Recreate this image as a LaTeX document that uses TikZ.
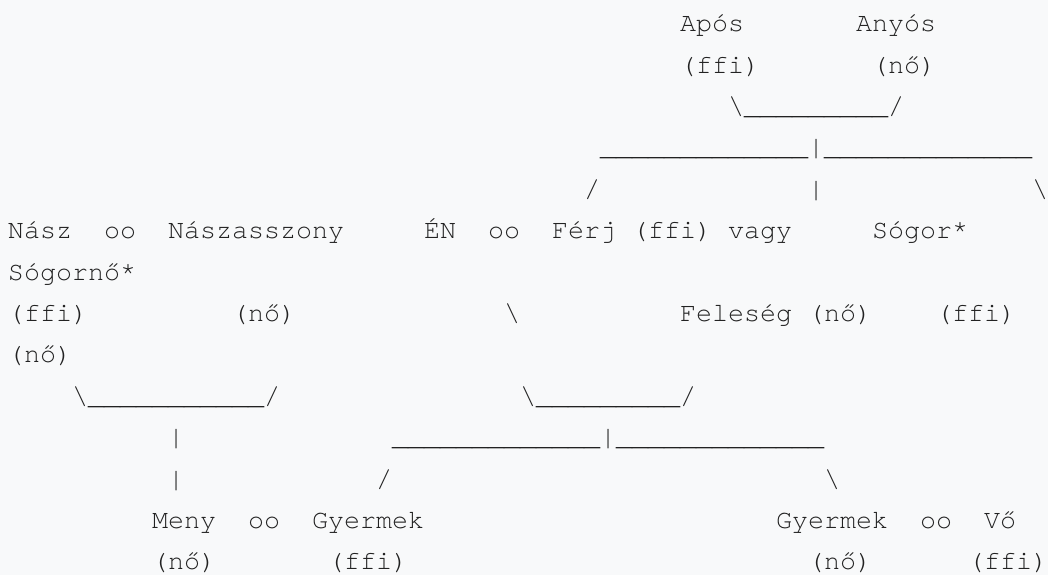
\documentclass[tikz,border=0pt]{standalone}
\usepackage{fontspec}
\newfontfamily\cursorfont{texgyrecursor}[Extension=.otf,UprightFont=*-regular,Ligatures={NoCommon,NoRequired,NoContextual},RawFeature={-liga}]
\definecolor{bg}{RGB}{248,249,250}
\definecolor{ink}{RGB}{34,34,34}
\newcommand\bsl{\textbackslash}
\newcommand\nineu{\_\_\_\_\_\_\_\_\_}
\newcommand\elevenu{\nineu\_\_}
\newcommand\thirteenu{\elevenu\_\_}
\tikzset{
  txt/.style={font=\cursorfont\fontsize{26.667pt}{32pt}\selectfont, text=ink,
    inner sep=0pt, outer sep=0pt, anchor=base west},
  link/.style={txt}
}
\begin{document}
\begin{tikzpicture}[x=1pt,y=-1pt]
\fill[bg] (0,0) rectangle (1048,575);
\useasboundingbox (0,0) rectangle (1048,575);
% row 1
\node[txt] (apos) at (680,31.7) {Após};
\node[txt] (anyos) at (856,31.7) {Anyós};
% row 2
\node[txt] (aposs) at (680,73.1) {(f{}f{}i)};
\node[txt] (anyoss) at (872,73.1) {(nő)};
% row 3
\node[link] (l3) at (728,114.5) {\bsl\nineu/};
% row 4
\node[link] (l4) at (600,155.9) {\thirteenu|\thirteenu};
% row 5
\node[link] (l5a) at (584,197.3) {/};
\node[link] (l5b) at (808,197.3) {|};
\node[link] (l5c) at (1032,197.3) {\bsl};
% row 6
\node[txt] (nasz) at (8,238.7) {Nász};
\node[txt] (oo1) at (104,238.7) {oo};
\node[txt] (naszasszony) at (168,238.7) {Nászasszony};
\node[txt] (en) at (424,238.7) {ÉN};
\node[txt] (oo2) at (488,238.7) {oo};
\node[txt] (ferj) at (552,238.7) {Férj};
\node[txt] (ferjs) at (632,238.7) {(f{}f{}i)};
\node[txt] (vagy) at (728,238.7) {vagy};
\node[txt] (sogor) at (872,238.7) {Sógor*};
% row 7
\node[txt] (sogorno) at (8,280.1) {Sógornő*};
% row 8
\node[txt] (naszs) at (8,321.5) {(f{}f{}i)};
\node[txt] (naszasszonys) at (232,321.5) {(nő)};
\node[link] (l8) at (504,321.5) {\bsl};
\node[txt] (feleseg) at (680,321.5) {Feleség};
\node[txt] (felesegs) at (808,321.5) {(nő)};
\node[txt] (sogors) at (936,321.5) {(f{}f{}i)};
% row 9
\node[txt] (sogornos) at (8,362.9) {(nő)};
% row 10
\node[link] (l10a) at (72,404.3) {\bsl\elevenu/};
\node[link] (l10b) at (520,404.3) {\bsl\nineu/};
% row 11
\node[link] (l11a) at (168,445.7) {|};
\node[link] (l11b) at (392,445.7) {\thirteenu|\thirteenu};
% row 12
\node[link] (l12a) at (168,487.1) {|};
\node[link] (l12b) at (376,487.1) {/};
\node[link] (l12c) at (824,487.1) {\bsl};
% row 13
\node[txt] (meny) at (152,528.5) {Meny};
\node[txt] (oo3) at (248,528.5) {oo};
\node[txt] (gyermek1) at (312,528.5) {Gyermek};
\node[txt] (gyermek2) at (776,528.5) {Gyermek};
\node[txt] (oo4) at (920,528.5) {oo};
\node[txt] (vo) at (984,528.5) {Vő};
% row 14
\node[txt] (menys) at (152,569.9) {(nő)};
\node[txt] (gyermek1s) at (328,569.9) {(f{}f{}i)};
\node[txt] (gyermek2s) at (808,569.9) {(nő)};
\node[txt] (vos) at (968,569.9) {(f{}f{}i)};
\end{tikzpicture}
\end{document}
